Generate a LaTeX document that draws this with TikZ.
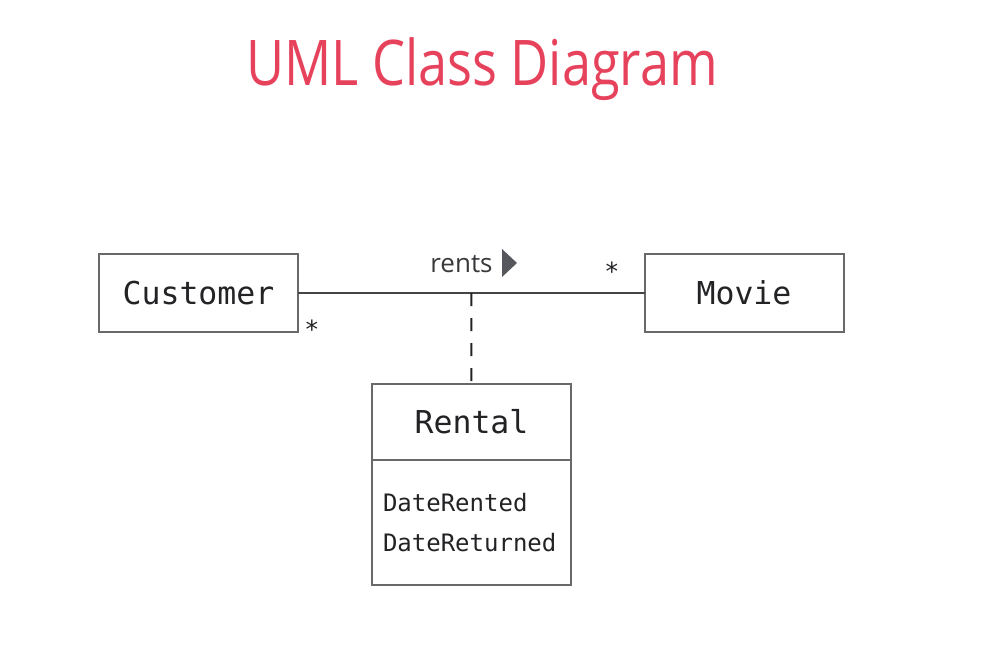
\documentclass[tikz,border=0pt]{standalone}
\usepackage{fontspec}
\setmainfont{Open Sans}
\newfontfamily\codefont{DejaVu Sans Mono}
\usetikzlibrary{positioning}
\definecolor{titlered}{RGB}{231,66,92}
\definecolor{boxgray}{RGB}{105,105,108}
\definecolor{inkgray}{RGB}{35,35,38}
\definecolor{arrowgray}{RGB}{85,87,92}

\begin{document}
\begin{tikzpicture}[
  x=1pt, y=-1pt,
  classbox/.style={draw=boxgray, line width=2pt, minimum width=199pt,
    minimum height=78pt, inner sep=0pt, outer sep=0pt, text=inkgray,
    font=\fontsize{31.5pt}{36pt}\codefont},
  attrbox/.style={draw=boxgray, line width=2pt, minimum width=199pt,
    minimum height=125pt, inner xsep=11pt, inner ysep=0pt, outer sep=0pt,
    text width=177pt, align=left, text=inkgray,
    font=\fontsize{24pt}{40pt}\codefont},
  assoc/.style={draw=inkgray!85, line width=1.6pt},
  mult/.style={text=inkgray, inner sep=0pt, font=\fontsize{25pt}{25pt}\codefont},
]
\fill[white] (0,0) rectangle (995,665);
\useasboundingbox (0,0) rectangle (995,665);

\node[anchor=base, xscale=0.83, text=titlered, font=\fontsize{63pt}{70pt}\selectfont] (title) at (482,85) {UML Class Diagram};

% classes
\node[classbox] (customer) at (198.5,293) {Customer};
\node[classbox] (movie) at (744,293) {Movie};
\node[classbox, minimum height=76pt] (rentalhead) at (471.5,422) {Rental};
\node[attrbox, below=0pt of rentalhead] (rentalattr) {DateRented\\DateReturned};

% association
\draw[assoc] (customer) -- coordinate (assocmid) (movie);
\draw[assoc, draw=inkgray, line width=2pt, dash pattern=on 13pt off 12pt] (assocmid) -- (rentalhead);
\node[anchor=base, text=inkgray!90, font=\fontsize{26pt}{30pt}\selectfont] (rents) at (461.5,272) {rents};
\fill[arrowgray] (502,249) -- (517,263) -- (502,277) -- cycle;
\node[mult] (custmult) at (312,329) {*};
\node[mult] (moviemult) at (612,271) {*};

\end{tikzpicture}
\end{document}
